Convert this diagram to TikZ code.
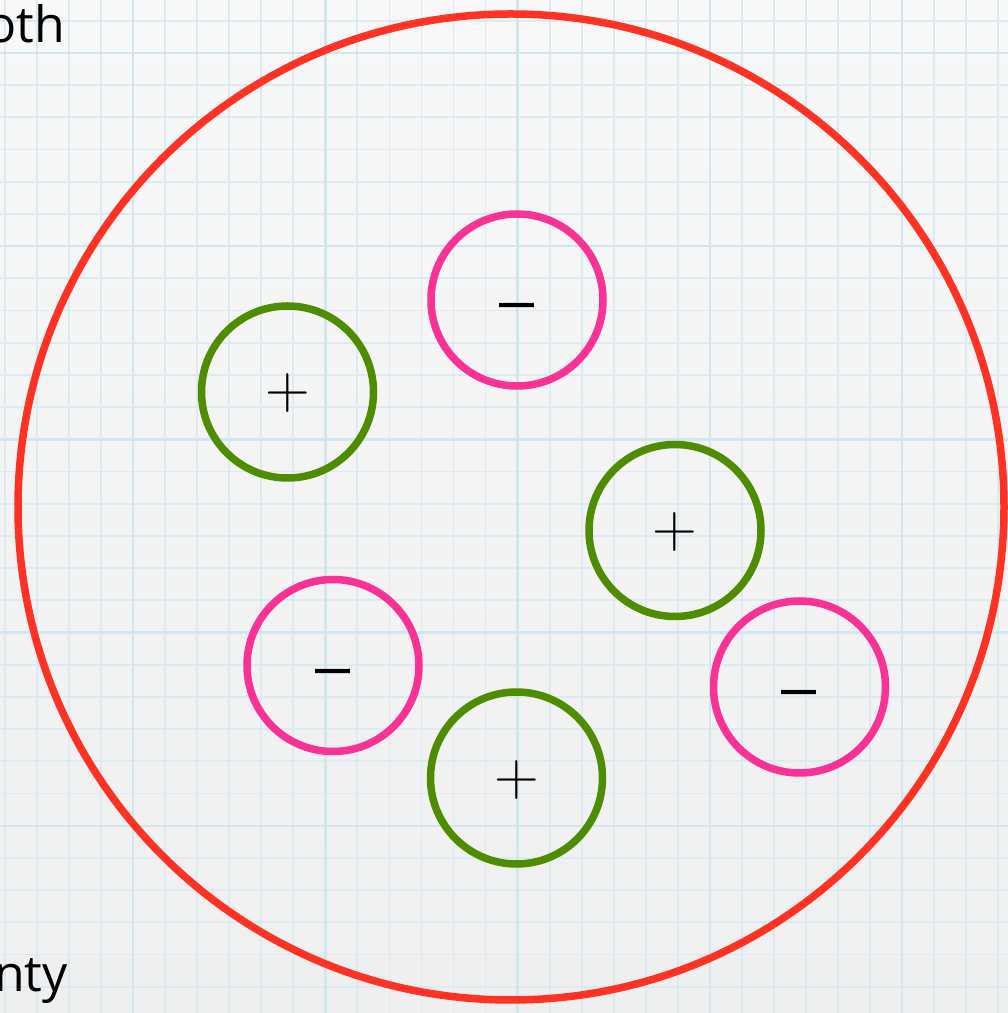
\documentclass[tikz,border=0pt]{standalone}
\usepackage{fontspec}
\setsansfont{Open Sans}
\newfontfamily\libsans{Liberation Sans}
\definecolor{bgtop}{RGB}{248,248,248}
\definecolor{bgbot}{RGB}{239,239,239}
\definecolor{gridminor}{RGB}{220,235,242}
\definecolor{gridmajor}{RGB}{210,230,239}
\definecolor{ringred}{RGB}{255,50,36}
\definecolor{ringpink}{RGB}{250,50,150}
\definecolor{ringgreen}{RGB}{78,140,0}
\tikzset{
  minorline/.style={draw=gridminor, line width=1.8pt},
  majorline/.style={draw=gridmajor, line width=2.4pt},
  bigring/.style={circle, draw=ringred, line width=7.5pt, minimum size=986pt, inner sep=0pt},
  posring/.style={circle, draw=ringgreen, line width=7.5pt, minimum size=172pt, inner sep=0pt},
  negring/.style={circle, draw=ringpink, line width=7.5pt, minimum size=172pt, inner sep=0pt},
  plussym/.style={inner sep=0pt, font=\rmfamily\fontsize{62}{70}\selectfont},
  minussym/.style={inner sep=0pt, anchor=base, font=\libsans\fontsize{63}{70}\selectfont},
  edgetext/.style={inner sep=0pt, anchor=base west, font=\sffamily\fontsize{50}{60}\selectfont, text=black}
}
\begin{document}
\begin{tikzpicture}[x=1pt,y=1pt]
\useasboundingbox (0,0) rectangle (1008,1013);
\clip (0,0) rectangle (1008,1013);
\shade[top color=bgtop, bottom color=bgbot] (0,0) rectangle (1008,1013);
% grid
\foreach \k in {0,...,31} {
  \pgfmathsetmacro\xx{4.8+32.05*\k}
  \draw[minorline] (\xx,0) -- (\xx,1013);
}
\foreach \k in {0,...,31} {
  \pgfmathsetmacro\yy{1013-(20.8+32.2*\k)}
  \draw[minorline] (0,\yy) -- (1008,\yy);
}
\foreach \k in {4,10,16,22,28} {
  \pgfmathsetmacro\xx{4.8+32.05*\k}
  \draw[majorline] (\xx,0) -- (\xx,1013);
}
\foreach \k in {1,7,13,19,25} {
  \pgfmathsetmacro\yy{1013-(20.8+32.2*\k)}
  \draw[majorline] (0,\yy) -- (1008,\yy);
}
% rings
\node[bigring] (big) at (511,506) {};
\node[negring] (m1) at (517,713) {};
\node[posring] (p1) at (287.5,621) {};
\node[posring] (p2) at (675,482.5) {};
\node[negring] (m2) at (333,347.5) {};
\node[negring] (m3) at (799.5,326) {};
\node[posring] (p3) at (516.5,235) {};
% symbols
\node[plussym] (p1s) at ([yshift=-1pt]p1.center) {+};
\node[plussym] (p2s) at ([yshift=-2pt]p2.center) {+};
\node[plussym] (p3s) at ([yshift=-2pt]p3.center) {+};
\node[minussym] (m1s) at ([yshift=-22pt]m1.center) {–};
\node[minussym] (m2s) at ([yshift=-22pt]m2.center) {–};
\node[minussym] (m3s) at ([yshift=-22pt]m3.center) {–};
% clipped edge texts
\node[edgetext] (topt) at (-14,970) {oth};
\node[edgetext] (bott) at (-6,21) {nty};
\end{tikzpicture}
\end{document}
